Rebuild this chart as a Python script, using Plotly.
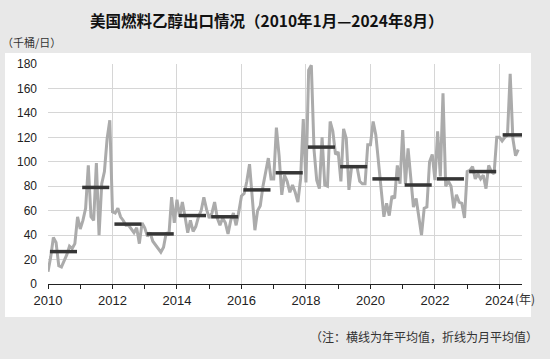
import plotly.graph_objects as go

# ---------------- data (thousand barrels per day) ----------------
years = list(range(2010, 2025))

monthly_kbd = [
    # 2010
    10, 22, 38, 34, 15, 14, 19, 24, 31, 29, 33, 55,
    # 2011
    45, 52, 62, 97, 55, 52, 99, 40, 82, 92, 119, 134,
    # 2012
    59, 58, 62, 55, 52, 48, 48, 45, 42, 46, 33, 50,
    # 2013
    46, 39, 42, 35, 32, 29, 26, 30, 42, 40, 71, 50,
    # 2014
    69, 55, 67, 55, 42, 52, 43, 47, 55, 60, 71, 61,
    # 2015
    54, 58, 67, 54, 48, 54, 50, 41, 52, 58, 48, 59,
    # 2016
    72, 74, 84, 98, 73, 44, 60, 64, 80, 93, 103, 86,
    # 2017
    86, 128, 105, 73, 89, 84, 75, 81, 75, 67, 86, 135,
    # 2018
    83, 175, 179, 110, 85, 78, 120, 81, 80, 133, 125, 106,
    # 2019
    108, 84, 127, 119, 77, 96, 96, 96, 84, 82, 82, 114,
    # 2020
    114, 133, 122, 100, 74, 55, 66, 56, 72, 70, 97, 82,
    # 2021
    126, 82, 111, 88, 63, 70, 56, 40, 62, 63, 100, 106,
    # 2022
    85, 125, 88, 156, 80, 84, 80, 62, 73, 67, 66, 54,
    # 2023
    92, 93, 96, 86, 90, 86, 89, 78, 97, 92, 90, 120,
    # 2024 (Jan-Aug)
    120, 117, 120, 122, 172, 119, 105, 110,
]

annual_avg = [26.5, 79, 49, 41, 56, 55, 77, 91, 112, 96, 86, 81, 86, 92, 122]

x_tick_years = [2010, 2012, 2014, 2016, 2018, 2020, 2022, 2024]
y_ticks = [0, 20, 40, 60, 80, 100, 120, 140, 160, 180]

title_text = "美国燃料乙醇出口情况（2010年1月—2024年8月）"
unit_text = "（千桶/日）"
note_text = "（注：横线为年平均值，折线为月平均值）"
year_unit = "(年)"

# ---------------- build ----------------
month_x = [years[0] + i / 12 for i in range(len(monthly_kbd))]

seg_x, seg_y = [], []
for yr, v in zip(years, annual_avg):
    start = yr + 0.06 if yr < years[-1] else yr + 0.1
    end = yr + 0.9 if yr < years[-1] else yr + 0.7
    seg_x += [start, end, None]
    seg_y += [v, v, None]

fig = go.Figure()
fig.add_trace(go.Scatter(x=month_x, y=monthly_kbd, mode="lines",
                         line=dict(color="#ababab", width=3), hoverinfo="skip"))
fig.add_trace(go.Scatter(x=seg_x, y=seg_y, mode="lines",
                         line=dict(color="#363636", width=3.5), hoverinfo="skip"))

W, H = 550, 359
ml, mr, mt, mb = 48, 28, 64, 75
pw, ph = W - ml - mr, H - mt - mb

def px(x):
    return (x - ml) / pw

def py(y):
    return (H - mb - y) / ph

fig.update_layout(
    width=W, height=H,
    margin=dict(l=ml, r=mr, t=mt, b=mb),
    paper_bgcolor="#e8e8e8",
    plot_bgcolor="rgba(0,0,0,0)",
    showlegend=False,
    font=dict(family="Liberation Sans, Arial, sans-serif", color="#222222", size=12),
    shapes=[dict(type="rect", xref="paper", yref="paper",
                 x0=px(5), x1=px(531), y0=py(317), y1=py(53),
                 fillcolor="white", line=dict(width=0), layer="below")],
)

fig.update_xaxes(
    range=[2010, 2024.7],
    tickmode="array", tickvals=x_tick_years, ticktext=[str(v) for v in x_tick_years],
    showgrid=True, gridcolor="#d6d6d6", gridwidth=1,
    showline=True, linecolor="#222222", linewidth=1,
    ticks="outside", ticklen=4, tickcolor="#222222",
    tickfont=dict(size=13, color="#222222"),
    zeroline=False,
    minor=dict(tickmode="linear", tick0=2010, dtick=1, ticks="outside", ticklen=4,
               tickcolor="#222222", showgrid=False),
)
fig.update_yaxes(
    range=[0, 180],
    tickmode="array", tickvals=y_ticks,
    showgrid=True, gridcolor="#d6d6d6", gridwidth=1,
    showline=False, ticks="", zeroline=False,
    ticklabelstandoff=10,
    tickfont=dict(size=12, color="#222222"),
)

cjk = "Noto Sans CJK SC"
fig.add_annotation(text=year_unit, xref="x", yref="paper",
                   x=x_tick_years[-1], y=py(298), xanchor="left", yanchor="middle",
                   xshift=14, showarrow=False,
                   font=dict(family=cjk, size=12, color="#333333"))
fig.add_annotation(text="<b>" + title_text + "</b>", xref="paper", yref="paper",
                   x=px(266.5), y=py(20), xanchor="center", yanchor="middle",
                   showarrow=False, font=dict(family=cjk, size=15.5, color="#111111"))
fig.add_annotation(text=unit_text, xref="paper", yref="paper",
                   x=px(0), y=py(42), xanchor="left", yanchor="middle",
                   showarrow=False, font=dict(family=cjk, size=11, color="#333333"))
fig.add_annotation(text=note_text, xref="paper", yref="paper",
                   x=px(540), y=py(336), xanchor="right", yanchor="middle",
                   showarrow=False, font=dict(family=cjk, size=12, color="#333333"))

fig.write_html(
    "out.html",
    config={"displayModeBar": False},
    post_script="document.body.style.margin='0';document.body.style.padding='0';",
)
